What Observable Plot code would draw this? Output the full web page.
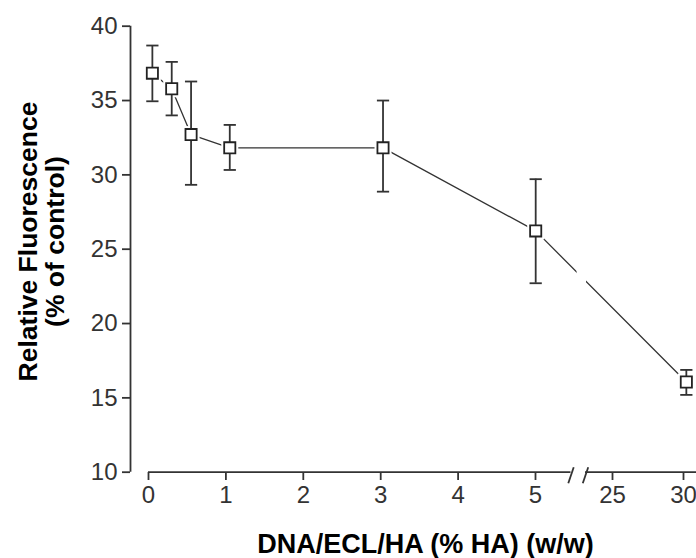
<!DOCTYPE html>
<html><head><meta charset="utf-8">
<script src="https://cdn.jsdelivr.net/npm/d3@7"></script>
<script src="https://cdn.jsdelivr.net/npm/@observablehq/plot@0.6"></script>
<style>html,body{margin:0;padding:0;background:#fff}</style>
</head><body><div id="chart"></div>
<script>
// Data
const doses = [0.05, 0.3, 0.55, 1.05, 3.03, 5.05, 30.2];          // % HA (w/w)
const fluor = [36.84, 35.79, 32.71, 31.82, 31.82, 26.23, 16.07];  // relative fluorescence
const errLow = [34.95, 34.0, 29.33, 30.33, 28.87, 22.71, 15.2];
const errHigh = [38.7, 37.6, 36.28, 33.36, 35.0, 29.71, 16.88];
const xTicks = [0, 1, 2, 3, 4, 5, 25, 30];
const yTicks = [10, 15, 20, 25, 30, 35, 40];
const axisBreak = [14.22, 17.99];   // "//" marks on the x axis (data units)
const lineGap = [15.8, 18.25];      // gap in the connecting line at the break
const xTitle = "DNA/ECL/HA (% HA) (w/w)";
const yTitle = "Relative Fluorescence\n(% of control)";

const data = doses.map((x, i) => ({x, y: fluor[i], lo: errLow[i], hi: errHigh[i]}));

const capSymbol = {draw(ctx, size) { const w = Math.sqrt(size) / 2; ctx.moveTo(-w, 0); ctx.lineTo(w, 0); }};
const slashSymbol = {draw(ctx, size) { const w = Math.sqrt(size) / 2; ctx.moveTo(-w * 0.34, w); ctx.lineTo(w * 0.34, -w); }};

const ink = "#333";
const chart = Plot.plot({
  width: 696, height: 558,
  marginLeft: 130, marginRight: 0, marginTop: 26, marginBottom: 86,
  style: {fontFamily: "'Liberation Sans', Arial, sans-serif", fontSize: "24px", color: ink, background: "#fff"},
  x: {type: "linear", domain: [0, 5, 25, 30], range: [148, 535, 612, 683]},
  y: {domain: [10, 40], range: [471.7, 25.7]},
  marks: [
    // connecting line
    Plot.line(data, {x: "x", y: "y", stroke: ink, strokeWidth: 1.3}),
    Plot.rect([0], {x1: lineGap[0], x2: lineGap[1], y1: 12, y2: 38, fill: "#fff"}),
    // white halos around markers
    Plot.dot(data, {x: "x", y: "y", symbol: "square", r: 9.6, fill: "#fff", stroke: "none"}),
    // error bars
    Plot.ruleX(data, {x: "x", y1: "lo", y2: "hi", stroke: ink, strokeWidth: 1.8}),
    Plot.dot(data, {x: "x", y: "lo", symbol: capSymbol, r: 6.9, stroke: ink, strokeWidth: 1.8}),
    Plot.dot(data, {x: "x", y: "hi", symbol: capSymbol, r: 6.9, stroke: ink, strokeWidth: 1.8}),
    // markers
    Plot.dot(data, {x: "x", y: "y", symbol: "square", r: 6.3, fill: "#fff", stroke: "#222", strokeWidth: 1.8}),
    // axes
    Plot.ruleX([0], {y1: 10, y2: 40, dx: -18, stroke: ink, strokeWidth: 1.8}),
    Plot.ruleY([10], {x1: 0, x2: axisBreak[0], stroke: ink, strokeWidth: 1.8}),
    Plot.ruleY([10], {x1: axisBreak[1], x2: 31, stroke: ink, strokeWidth: 1.8}),
    Plot.dot(axisBreak, {x: d => d, y: 10, symbol: slashSymbol, r: 9, stroke: ink, strokeWidth: 1.8, dy: 3}),
    Plot.axisY({ticks: yTicks, tickSize: 8, tickPadding: 5, label: null, strokeWidth: 1.8, fontSize: 24}),
    Plot.axisX({ticks: xTicks, tickSize: 8, tickPadding: 5, label: null, strokeWidth: 1.8, fontSize: 24}),
    // titles
    Plot.text([xTitle], {frameAnchor: "bottom", lineAnchor: "bottom", dx: 12, dy: 80, fontWeight: "bold", fontSize: 27, fill: "#000"}),
    Plot.text([yTitle], {frameAnchor: "left", textAnchor: "middle", rotate: -90, dx: -89, dy: -8, lineHeight: 1.04, fontWeight: "bold", fontSize: 26.5, fill: "#000"})
  ]
});
document.getElementById("chart").appendChild(chart);
</script>
</body></html>
